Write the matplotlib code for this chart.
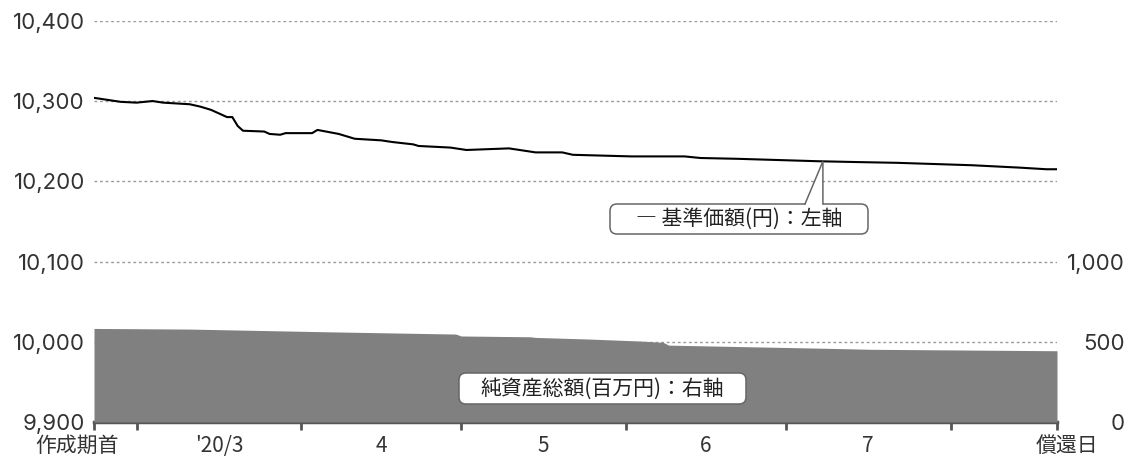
import matplotlib
matplotlib.use('Agg')
import matplotlib.pyplot as plt
import matplotlib.dates as mdates
from matplotlib.patches import FancyBboxPatch, Polygon
import numpy as np
import pandas as pd

plt.rcParams['font.family'] = ['Noto Sans CJK JP', 'DejaVu Sans']

# ---------------- data ----------------
start_date = '2020-02-22'
end_date = '2020-08-21'

nav_dates = ['2020-02-22', '2020-02-27', '2020-03-01', '2020-03-04', '2020-03-06',
             '2020-03-11', '2020-03-13', '2020-03-15', '2020-03-18', '2020-03-19',
             '2020-03-20', '2020-03-21', '2020-03-25', '2020-03-26', '2020-03-28',
             '2020-03-29', '2020-04-03', '2020-04-04', '2020-04-08', '2020-04-11',
             '2020-04-16', '2020-04-18', '2020-04-22', '2020-04-23', '2020-04-29',
             '2020-05-02', '2020-05-10', '2020-05-15', '2020-05-20', '2020-05-22',
             '2020-06-02', '2020-06-12', '2020-06-15', '2020-06-22', '2020-07-07',
             '2020-07-14', '2020-07-22', '2020-08-05', '2020-08-14', '2020-08-19',
             '2020-08-21']
nav_values = [10304, 10299, 10298, 10300, 10298,
              10296, 10293, 10289, 10280, 10280,
              10269, 10263, 10262, 10259, 10258,
              10260, 10260, 10264, 10259, 10253,
              10251, 10249, 10246, 10244, 10242,
              10239, 10241, 10236, 10236, 10233,
              10231, 10231, 10229, 10228, 10225,
              10224, 10223, 10220, 10217, 10215,
              10215]

aum_dates = ['2020-02-22', '2020-03-11', '2020-04-06', '2020-04-30', '2020-05-01',
             '2020-05-14', '2020-05-15', '2020-05-25', '2020-06-04', '2020-06-08',
             '2020-06-09', '2020-07-09', '2020-07-17', '2020-08-21']
aum_values = [583, 579, 562, 548, 536,
              531, 527, 517, 504, 496,
              479, 459, 453, 444]

left_ticks = [9900, 10000, 10100, 10200, 10300, 10400]
right_ticks = [0, 500, 1000]
month_bounds = ['2020-03-01', '2020-04-01', '2020-05-01', '2020-06-01', '2020-07-01', '2020-08-01']
month_labels = ["'20/3", '4', '5', '6', '7']
start_label = '作成期首'
end_label = '償還日'
nav_label = '― 基準価額(円)：左軸'
aum_label = '純資産総額(百万円)：右軸'
callout_date = '2020-07-08'

# ---------------- figure ----------------
W, H = 1129, 458
fig = plt.figure(figsize=(W / 100, H / 100), dpi=100)
ax_l, ax_r, ax_b, ax_t = 94, 1057, 422, 20.8
ax = fig.add_axes([ax_l / W, 1 - ax_b / H, (ax_r - ax_l) / W, (ax_b - ax_t) / H])
ax2 = ax.twinx()

txt_color = '#333333'
fs = 15
num_font = ['Inter', 'Noto Sans CJK JP']
num_fs = 16

nd = pd.to_datetime(nav_dates)
ad = pd.to_datetime(aum_dates)
t0, t1 = pd.Timestamp(start_date), pd.Timestamp(end_date)

# left axis: NAV line
ax.plot(nd, nav_values, color='black', lw=1.5, zorder=3, solid_joinstyle='round')
ax.set_xlim(t0, t1)
ax.set_ylim(left_ticks[0], left_ticks[-1])
ax.set_yticks(left_ticks)
ax.set_yticklabels([f'{v:,}' for v in left_ticks], fontsize=num_fs, color=txt_color,
                   family=num_font)
ax.tick_params(axis='y', length=0, pad=6.5)
ax.yaxis.grid(True, color='#9a9a9a', linestyle=(0, (2, 2)), lw=1)
ax.set_axisbelow(True)

for s in ['left', 'right', 'top']:
    ax.spines[s].set_visible(False)
ax.spines['bottom'].set_color('#555555')
ax.spines['bottom'].set_linewidth(2.5)
ax.spines['bottom'].set_zorder(5)

bounds = pd.to_datetime(month_bounds)
major = [t0] + list(bounds) + [t1]
ax.set_xticks(major)
ax.set_xticklabels([''] * len(major))
ax.tick_params(axis='x', which='major', length=6, width=2, color='#555555', direction='out')
mids = [bounds[i] + (bounds[i + 1] - bounds[i]) / 2 for i in range(len(bounds) - 1)]
ax.set_xticks(mids, minor=True)
ax.set_xticklabels(month_labels, minor=True, fontsize=fs, color=txt_color)
ax.tick_params(axis='x', which='minor', length=0, pad=9)

ax.annotate(start_label, xy=(t0, 0), xycoords=('data', 'axes fraction'),
            xytext=(-17 / 1.389, -24 / 1.389), textcoords='offset points',
            ha='center', va='center', fontsize=fs, color=txt_color, annotation_clip=False)
ax.annotate(end_label, xy=(t1, 0), xycoords=('data', 'axes fraction'),
            xytext=(10 / 1.389, -24 / 1.389), textcoords='offset points',
            ha='center', va='center', fontsize=fs, color=txt_color, annotation_clip=False)

# right axis: net assets area
ax2.fill_between(ad, 0, aum_values, color='#808080', lw=0, zorder=2)
ax2.set_ylim(0, 2500)
ax2.set_yticks(right_ticks)
ax2.set_yticklabels([f'{v:,}' for v in right_ticks], fontsize=num_fs, color=txt_color,
                    family=num_font)
ax2.tick_params(axis='y', length=0, pad=49)
for t in ax2.get_yticklabels():
    t.set_ha('right')
for s in ax2.spines.values():
    s.set_visible(False)
ax2.set_xlim(t0, t1)

# callouts
pw, ph = ax_r - ax_l, ax_b - ax_t
aspect = pw / ph
edge = '#666666'


def box(axis, x0, x1, y0, y1):
    p = FancyBboxPatch((x0, y0), x1 - x0, y1 - y0,
                       boxstyle=f'round,pad=0,rounding_size={7 / pw}',
                       mutation_aspect=aspect, transform=axis.transAxes,
                       facecolor='white', edgecolor=edge, lw=1.1, zorder=6)
    axis.add_patch(p)


def fx(px):
    return (px - ax_l) / pw


def fy(py):
    return (ax_b - py) / ph


# NAV callout
bx0, bx1, by0, by1 = fx(610), fx(868), fy(234), fy(204)
box(ax, bx0, bx1, by0, by1)
fig.canvas.draw()
cd = pd.Timestamp(callout_date)
cval = np.interp(mdates.date2num(cd), mdates.date2num(nd), nav_values)
apex_disp = ax.transData.transform((mdates.date2num(cd), cval))
apex = ax.transAxes.inverted().transform(apex_disp)
bl, br = fx(805), apex[0]
tri = Polygon([(bl, by1 - 0.004), (apex[0], apex[1]), (br, by1 - 0.004)], closed=True,
              transform=ax.transAxes, facecolor='white', edgecolor='none', zorder=7)
ax.add_patch(tri)
ax.plot([bl, apex[0], br], [by1, apex[1], by1], transform=ax.transAxes,
        color=edge, lw=1.1, zorder=8, solid_joinstyle='miter')
ax.text((bx0 + bx1) / 2, (by0 + by1) / 2, nav_label, transform=ax.transAxes,
        ha='center', va='center', fontsize=fs, color='#222222', zorder=9)

# AUM callout
ax0, ax1_, ay0, ay1 = fx(459), fx(746), fy(404), fy(373)
box(ax2, ax0, ax1_, ay0, ay1)
ax2.text((ax0 + ax1_) / 2, (ay0 + ay1) / 2, aum_label, transform=ax2.transAxes,
         ha='center', va='center', fontsize=fs, color='#222222', zorder=9)

fig.savefig('out.png', dpi=100)
